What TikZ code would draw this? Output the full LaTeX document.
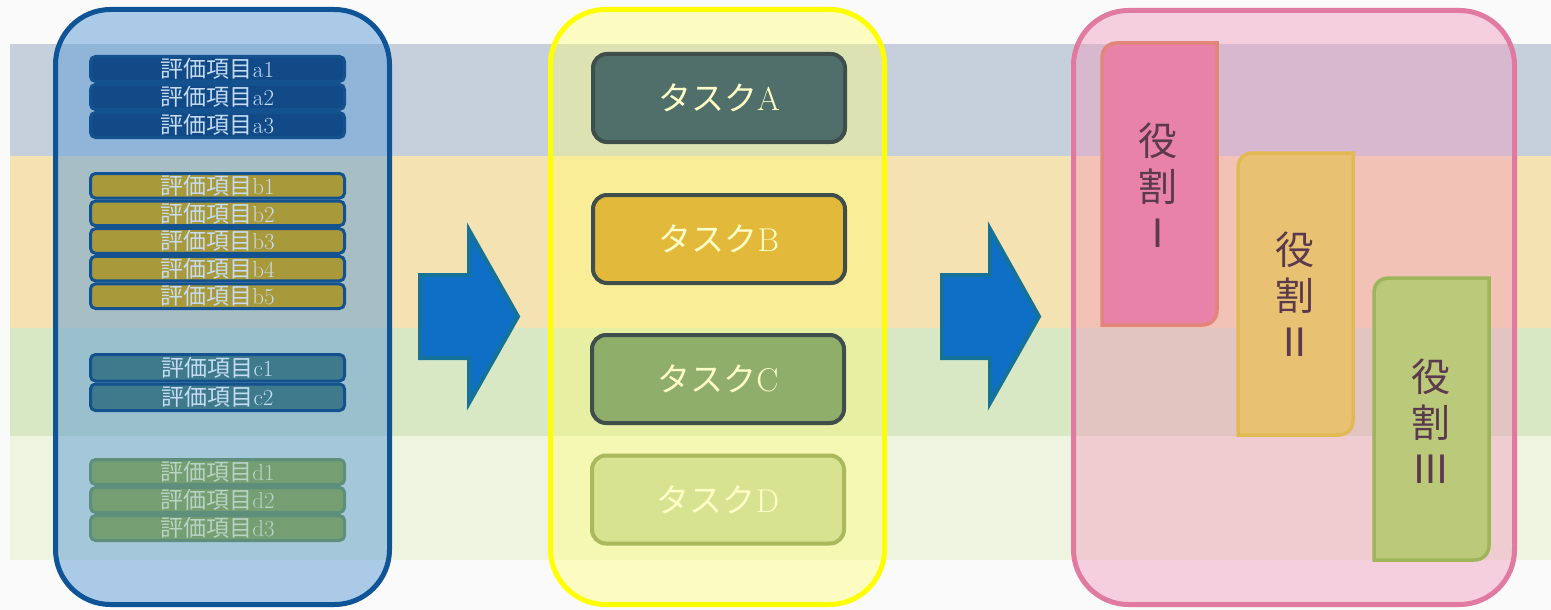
\documentclass[tikz,border=0pt]{standalone}
\usepackage{fontspec}
\newfontfamily\cjk{Noto Sans CJK JP}
\definecolor{bgw}{HTML}{FAFAFA}
\definecolor{bandblue}{HTML}{C6D0DD}
\definecolor{bandorange}{HTML}{F5E2B3}
\definecolor{bandgreen}{HTML}{D8E7C4}
\definecolor{bandlight}{HTML}{EFF4E1}
\definecolor{lpfill}{HTML}{5B9BD5}
\definecolor{lpdraw}{HTML}{0E5496}
\definecolor{mpfill}{HTML}{FFFF70}
\definecolor{mpdraw}{HTML}{FFFF00}
\definecolor{rpfill}{HTML}{F09CBC}
\definecolor{rpdraw}{HTML}{E07AA0}
\definecolor{itemborder}{HTML}{14528F}
\definecolor{itemtext}{HTML}{C5DCF2}
\definecolor{afill}{HTML}{124A88}
\definecolor{bfill}{HTML}{A8993A}
\definecolor{cfill}{HTML}{3E7A8C}
\definecolor{dfill}{HTML}{759E72}
\definecolor{dborder}{HTML}{5E8E7C}
\definecolor{dtext}{HTML}{B8D2C4}
\definecolor{taskborder}{HTML}{3F4E4A}
\definecolor{tAfill}{HTML}{506F6A}
\definecolor{tBfill}{HTML}{E3B93C}
\definecolor{tCfill}{HTML}{8EAE6A}
\definecolor{tDfill}{HTML}{D8E392}
\definecolor{tDborder}{HTML}{A9B95C}
\definecolor{tasktext}{HTML}{FFFFC8}
\definecolor{arrowfill}{HTML}{0F6FC6}
\definecolor{arrowdraw}{HTML}{15739A}
\definecolor{r1fill}{HTML}{E882A8}
\definecolor{r1draw}{HTML}{E0877A}
\definecolor{r2fill}{HTML}{E8C272}
\definecolor{r2draw}{HTML}{E2B854}
\definecolor{r3fill}{HTML}{BBC97A}
\definecolor{r3draw}{HTML}{9DB65A}
\definecolor{roletext}{HTML}{5B3A4E}
\begin{document}
\begin{tikzpicture}[x=1pt,y=-1pt,
  panel/.style={rectangle, rounded corners=55pt, line width=5pt, fill opacity=0.45, inner sep=0pt},
  item/.style={rectangle, rounded corners=5pt, draw=itemborder, line width=3pt, minimum width=254pt, inner sep=0pt, text=itemtext, font=\fontsize{23}{23}\selectfont},
  task/.style={rectangle, rounded corners=14pt, draw=taskborder, line width=4pt, minimum width=252pt, minimum height=88pt, inner sep=0pt, text=tasktext, font=\fontsize{33}{33}\selectfont},
  bigarrow/.style={fill=arrowfill, draw=arrowdraw, line width=4pt, line join=miter},
  rolebox/.style={line width=3.5pt},
  roletxt/.style={align=center, text=roletext, font=\cjk\fontsize{39}{46}\selectfont, inner sep=0pt}
]
\useasboundingbox (0,0) rectangle (1551,610);
\fill[bgw] (0,0) rectangle (1551,610);
% bands
\fill[bandblue] (10,44) rectangle (1551,156);
\fill[bandorange] (10,156) rectangle (1551,328);
\fill[bandgreen] (10,328) rectangle (1551,436);
\fill[bandlight] (10,436) rectangle (1551,560);

% panels
\node[panel, draw=lpdraw, fill=lpfill, fill opacity=0.5, minimum width=334pt, minimum height=595pt] (left) at (222.5,307) {};
\node[panel, draw=mpdraw, fill=mpfill, fill opacity=0.4, minimum width=334pt, minimum height=595pt] (mid) at (717.5,307) {};
\node[panel, draw=rpdraw, fill=rpfill, minimum width=441pt, minimum height=594pt] (right) at (1294,307.5) {};

% evaluation items
\node[item, fill=afill, minimum height=25pt] (a1) at (217.5,69) {{\cjk 評価項目}a1};
\node[item, fill=afill, minimum height=25pt] (a2) at (217.5,97) {{\cjk 評価項目}a2};
\node[item, fill=afill, minimum height=25pt] (a3) at (217.5,125) {{\cjk 評価項目}a3};

\node[item, fill=bfill, minimum height=24.6pt] (b1) at (217.5,185.8) {{\cjk 評価項目}b1};
\node[item, fill=bfill, minimum height=24.6pt] (b2) at (217.5,213.4) {{\cjk 評価項目}b2};
\node[item, fill=bfill, minimum height=24.6pt] (b3) at (217.5,241) {{\cjk 評価項目}b3};
\node[item, fill=bfill, minimum height=24.6pt] (b4) at (217.5,268.6) {{\cjk 評価項目}b4};
\node[item, fill=bfill, minimum height=24.6pt] (b5) at (217.5,296.2) {{\cjk 評価項目}b5};

\node[item, fill=cfill, minimum height=26.5pt] (c1) at (217.5,367.75) {{\cjk 評価項目}c1};
\node[item, fill=cfill, minimum height=26.5pt] (c2) at (217.5,397.25) {{\cjk 評価項目}c2};

\node[item, fill=dfill, draw=dborder, text=dtext, minimum height=25pt] (d1) at (217.5,472) {{\cjk 評価項目}d1};
\node[item, fill=dfill, draw=dborder, text=dtext, minimum height=25pt] (d2) at (217.5,500) {{\cjk 評価項目}d2};
\node[item, fill=dfill, draw=dborder, text=dtext, minimum height=25pt] (d3) at (217.5,528) {{\cjk 評価項目}d3};

% tasks
\node[task, fill=tAfill] (tA) at (719,98) {{\cjk タスク}A};
\node[task, fill=tBfill] (tB) at (719,239) {{\cjk タスク}B};
\node[task, fill=tCfill] (tC) at (718,379) {{\cjk タスク}C};
\node[task, fill=tDfill, draw=tDborder] (tD) at (718,499.5) {{\cjk タスク}D};

% block arrows
\draw[bigarrow] (420,275) -- (469,275) -- (469,230) -- (518,316.5) -- (469,403) -- (469,358) -- (420,358) -- cycle;
\draw[bigarrow] (942,275) -- (990,275) -- (990,229) -- (1039,316.5) -- (990,403) -- (990,358) -- (942,358) -- cycle;

% roles
\draw[rolebox, fill=r1fill, draw=r1draw]
  (1102,325) -- (1102,58) .. controls (1102,49) and (1108,43) .. (1117,43)
  -- (1217,43) -- (1217,310) .. controls (1217,319) and (1211,325) .. (1202,325) -- cycle;
\draw[rolebox, fill=r2fill, draw=r2draw]
  (1238,435) -- (1238,168) .. controls (1238,159) and (1244,153) .. (1253,153)
  -- (1353,153) -- (1353,420) .. controls (1353,429) and (1347,435) .. (1338,435) -- cycle;
\draw[rolebox, fill=r3fill, draw=r3draw]
  (1374,560) -- (1374,293) .. controls (1374,284) and (1380,278) .. (1389,278)
  -- (1489,278) -- (1489,545) .. controls (1489,554) and (1483,560) .. (1474,560) -- cycle;

\node[roletxt] (role1) at (1158,185) {役\\割\\Ⅰ};
\node[roletxt] (role2) at (1295,294) {役\\割\\Ⅱ};
\node[roletxt] (role3) at (1431,421) {役\\割\\Ⅲ};
\end{tikzpicture}
\end{document}
